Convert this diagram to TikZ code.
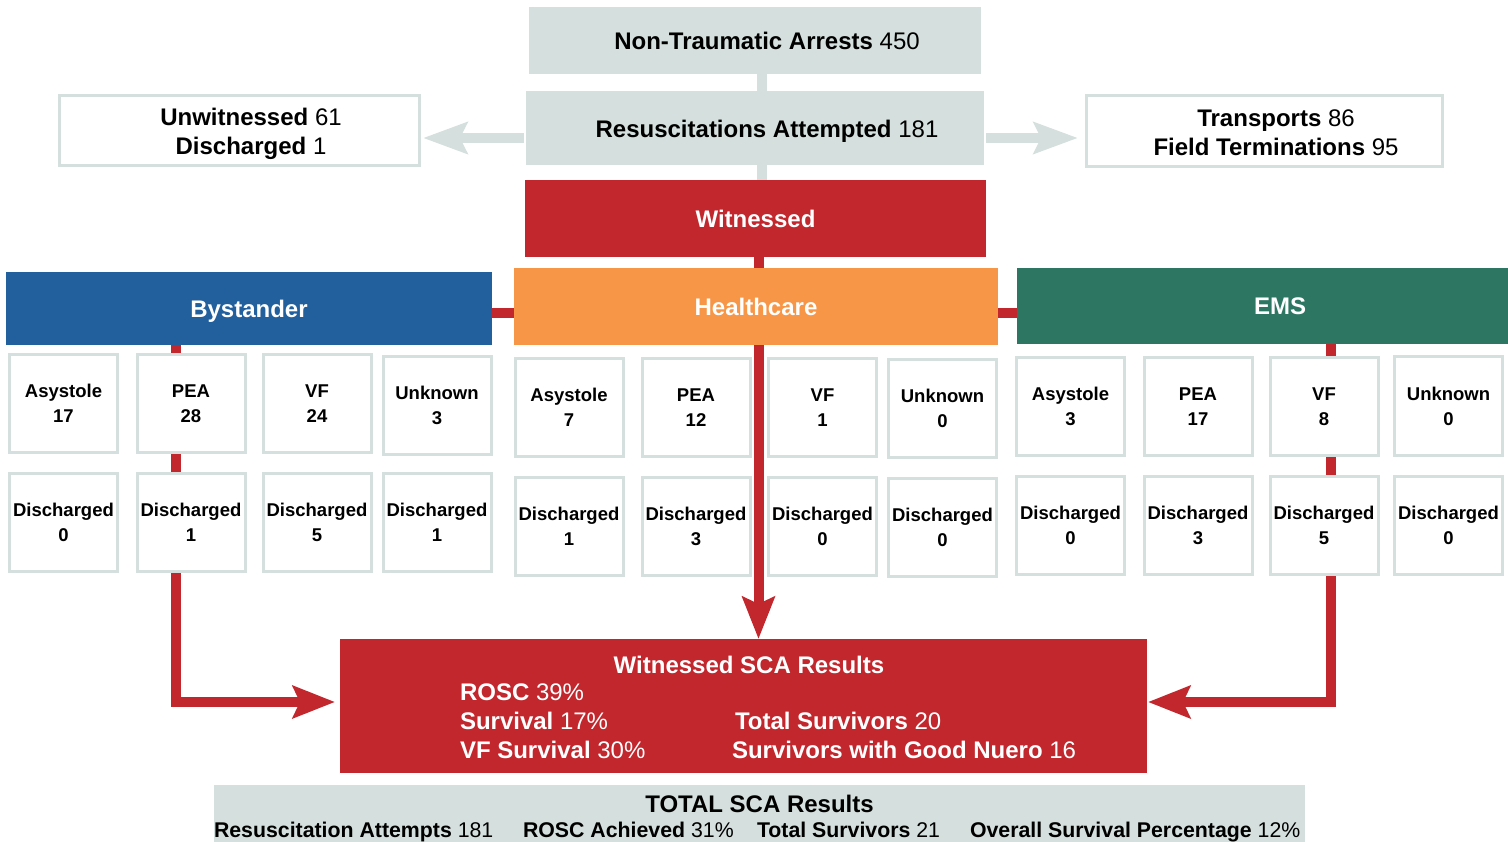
\documentclass[tikz,border=0pt]{standalone}
\usepackage{fontspec}
\setmainfont{Liberation Sans}
\usetikzlibrary{arrows.meta,backgrounds}
\definecolor{mist}{HTML}{D5DFDD}
\definecolor{alarm}{HTML}{C1272D}
\definecolor{byblue}{HTML}{215F9D}
\definecolor{hcorange}{HTML}{F79646}
\definecolor{emsgreen}{HTML}{2D7762}
\newcommand{\bigtxt}{\fontsize{24}{29}\selectfont}
\newcommand{\celltxt}{\fontsize{18.5}{25}\selectfont\bfseries}
\newcommand{\rowtxt}{\fontsize{21.3}{25}\selectfont}

\begin{document}
\begin{tikzpicture}[x=1pt,y=-1pt,
  every node/.style={inner sep=0pt,outer sep=0pt},
  plate/.style={fill=mist},
  frame/.style={draw=mist,line width=3pt,fill=white},
  header/.style={font=\bigtxt\bfseries,text=white,text height=17.2pt,text depth=0pt},
  cell/.style={frame,minimum width=108pt,minimum height=98pt,align=center,font=\celltxt},
  caption/.style={font=\bigtxt,align=center},
  redlink/.style={draw=alarm,line width=10pt},
  redarrow/.style={redlink,line join=miter,-{Stealth[length=42pt,width=32pt,inset=7pt]}},
  greylink/.style={draw=mist,line width=10pt},
  greyarrow/.style={greylink,-{Stealth[length=44pt,width=31pt,inset=7pt]}},
  restxt/.style={font=\bigtxt,text=white,anchor=base west},
  rowlabel/.style={font=\rowtxt,anchor=base west},
]
\useasboundingbox (0,0) rectangle (1508,842);
\clip (0,0) rectangle (1508,842);

% intake boxes
\node[plate,minimum width=452pt,minimum height=67pt] (arrests) at (755,40.5) {};
\node[font=\bigtxt,anchor=base] (arrestsT) at (767,49.6) {\textbf{Non-Traumatic Arrests} 450};
\node[plate,minimum width=458pt,minimum height=74pt] (resus) at (755,128) {};
\node[font=\bigtxt,anchor=base] (resusT) at (767,137.6) {\textbf{Resuscitations Attempted} 181};
\node[frame,minimum width=360pt,minimum height=70pt] (unw) at (239.5,130.5) {};
\node[caption] (unwT) at (251,133.5) {\textbf{Unwitnessed} 61\\\textbf{Discharged} 1};
\node[frame,minimum width=356pt,minimum height=71pt] (trans) at (1264.5,131) {};
\node[caption] (transT) at (1276,132.5) {\textbf{Transports} 86\\\textbf{Field Terminations} 95};

\node[header,fill=alarm,minimum width=461pt,minimum height=77pt] (wit) at (755.5,218.5) {Witnessed};

% responder groups
\node[header,fill=byblue,minimum width=486pt,minimum height=73pt] (by) at (249,308.5) {Bystander};
\node[header,fill=hcorange,minimum width=484pt,minimum height=77pt] (hc) at (756,306.5) {Healthcare};
\node[header,fill=emsgreen,minimum width=526pt,minimum height=76pt] (ems) at (1280,306) {EMS};

% rhythm cells
\foreach \id/\cx/\cy/\lab/\num in {
  bA/63.5/403.5/Asystole/17, bP/191/403.5/PEA/28, bV/317/403.5/VF/24, bU/437/405.5/Unknown/3,
  hA/569/407.5/Asystole/7, hP/696/407.5/PEA/12, hV/822.5/407.5/VF/1, hU/942.5/408.5/Unknown/0,
  eA/1070.5/406.5/Asystole/3, eP/1198/406.5/PEA/17, eV/1324/406.5/VF/8, eU/1448.5/406/Unknown/0}
  \node[cell] (\id) at (\cx,\cy) {\lab\\\num};

% discharge cells
\foreach \id/\cx/\cy/\num in {
  bAd/63.5/522.5/0, bPd/191/522.5/1, bVd/317/522.5/5, bUd/437/522/1,
  hAd/569/526.5/1, hPd/696/526.5/3, hVd/822.5/526.5/0, hUd/942.5/527.5/0,
  eAd/1070.5/525.5/0, ePd/1198/525.5/3, eVd/1324/525.5/5, eUd/1448.5/525/0}
  \node[cell] (\id) at (\cx,\cy) {Discharged\\\num};

% witnessed results
\node[fill=alarm,minimum width=807pt,minimum height=134pt] (res) at (743.5,706) {};
\node[font=\bigtxt\bfseries,text=white,anchor=base] (resT) at (749,673.5) {Witnessed SCA Results};
\node[restxt] (rosc) at (460,700.5) {\textbf{ROSC} 39\%};
\node[restxt] (surv) at (460,729.5) {\textbf{Survival} 17\%};
\node[restxt] (vfs) at (460,758.5) {\textbf{VF Survival} 30\%};
\node[restxt] (tot) at (735,729.5) {\textbf{Total Survivors} 20};
\node[restxt] (neuro) at (732,758.5) {\textbf{Survivors with Good Nuero} 16};

% overall results
\node[plate,minimum width=1091pt,minimum height=70pt] (total) at (759.5,820) {};
\node[font=\bigtxt\bfseries,anchor=base] (totalT) at (759.5,812.5) {TOTAL SCA Results};
\node[rowlabel] (t1) at (214,837.5) {\textbf{Resuscitation Attempts} 181};
\node[rowlabel] (t2) at (523,837.5) {\textbf{ROSC Achieved} 31\%};
\node[rowlabel] (t3) at (757,837.5) {\textbf{Total Survivors} 21};
\node[rowlabel] (t4) at (970,837.5) {\textbf{Overall Survival Percentage} 12\%};

% connectors
\coordinate (gx) at (762,0);
\coordinate (gy) at (0,138);
\coordinate (wx) at (758.5,0);
\coordinate (barY) at (0,313);
\coordinate (bx) at (176,702);
\coordinate (ex) at (1330.5,702);
\begin{scope}[on background layer]
  \draw[greylink] (arrests.south -| gx) -- (resus.north -| gx);
  \draw[greylink] (resus.south -| gx) -- (wit.north -| gx);
  \draw[greyarrow,shorten <=2pt,shorten >=3.5pt] (resus.west |- gy) -- (unw.east |- gy);
  \draw[greyarrow,shorten <=2pt,shorten >=8.5pt] (resus.east |- gy) -- (trans.west |- gy);
  \draw[redlink] (wit.south -| wx) -- (hc.north -| wx);
  \draw[redlink] (by.east |- barY) -- (hc.west |- barY);
  \draw[redlink] (hc.east |- barY) -- (ems.west |- barY);
  \draw[redarrow] (hc.south -| wx) -- (res.north -| wx);
  \draw[redarrow,shorten >=5pt] (by.south -| bx) -- (bx) -- (res.west |- bx);
  \draw[redarrow,shorten >=1pt] (ems.south -| ex) -- (ex) -- (res.east |- ex);
\end{scope}
\end{tikzpicture}
\end{document}
